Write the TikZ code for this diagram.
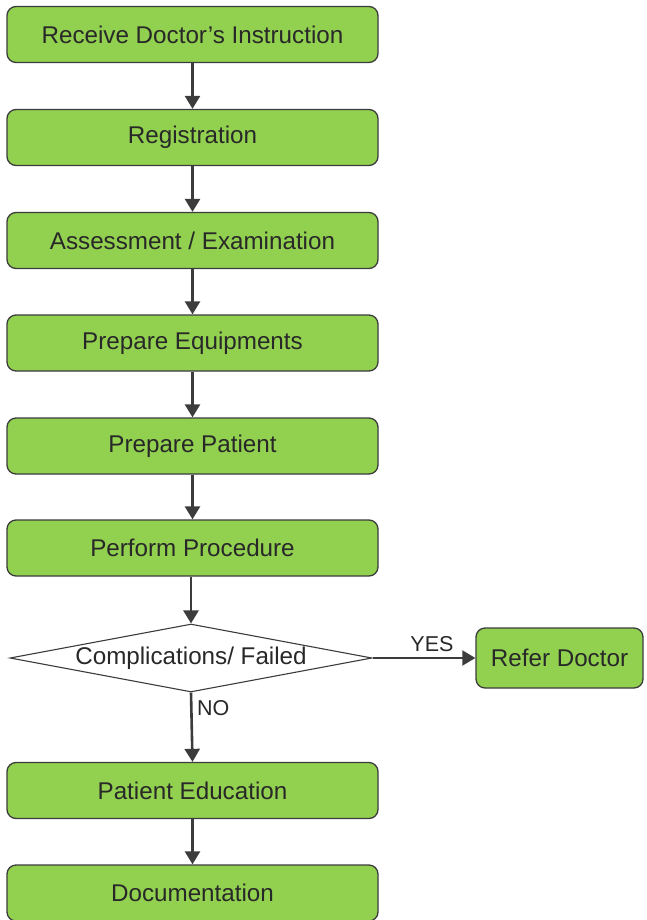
\documentclass[tikz,border=0pt]{standalone}
\usepackage{fontspec}
\setmainfont{Liberation Sans}
\usetikzlibrary{arrows.meta,shapes.geometric}
\definecolor{boxgreen}{RGB}{146,208,80}
\definecolor{edgegray}{RGB}{60,60,60}
\definecolor{txt}{RGB}{40,40,40}
\tikzset{
  stepbox/.style={draw=edgegray, line width=1.3pt, fill=boxgreen, rounded corners=9pt,
    minimum width=371pt, minimum height=56pt, inner sep=0pt, text=txt,
    font=\fontsize{24.2}{28}\selectfont},
  decbox/.style={draw=edgegray, line width=1.1pt, fill=white, diamond, aspect=5.3,
    minimum width=362pt, minimum height=68pt, inner sep=0pt, text=txt,
    font=\fontsize{24.2}{28}\selectfont},
  flow/.style={draw=edgegray, line width=2.6pt, -{Triangle[width=15pt,length=13pt]}},
  lbl/.style={text=txt, font=\fontsize{21.5}{25}\selectfont, inner sep=0pt}
}
\begin{document}
\begin{tikzpicture}[x=1pt,y=1pt]
\useasboundingbox (0,0) rectangle (646,-920);
\node[stepbox] (b1) at (192.5,-34.5) {Receive Doctor’s Instruction};
\node[stepbox] (b2) at (192.5,-137.5) {Registration};
\node[stepbox] (b3) at (192.5,-240.5) {Assessment / Examination};
\node[stepbox] (b4) at (192.5,-343) {Prepare Equipments};
\node[stepbox] (b5) at (192.5,-446) {Prepare Patient};
\node[stepbox] (b6) at (192.5,-548) {Perform Procedure};
\node[decbox] (dec) at (191,-658) {Complications/ Failed};
\node[stepbox, minimum width=167pt, minimum height=60pt] (ref) at (559.5,-658) {Refer Doctor};
\node[stepbox] (pe) at (192.5,-790.5) {Patient Education};
\node[stepbox] (doc) at (192.5,-893) {Documentation};
\draw[flow] (b1.south) -- (b2.north);
\draw[flow] (b2.south) -- (b3.north);
\draw[flow] (b3.south) -- (b4.north);
\draw[flow] (b4.south) -- (b5.north);
\draw[flow] (b5.south) -- (b6.north);
\draw[flow] (b6.south -| dec.north) -- (dec.north);
\draw[flow, line width=2pt] (dec.east) -- (ref.west);
\draw[flow] (dec.south) -- (pe.south |- pe.north);
\draw[flow] (pe.south) -- (doc.north);
\node[lbl] (yes) at (432,-644) {YES};
\node[lbl, anchor=west] (no) at (197,-708) {NO};
\end{tikzpicture}
\end{document}
